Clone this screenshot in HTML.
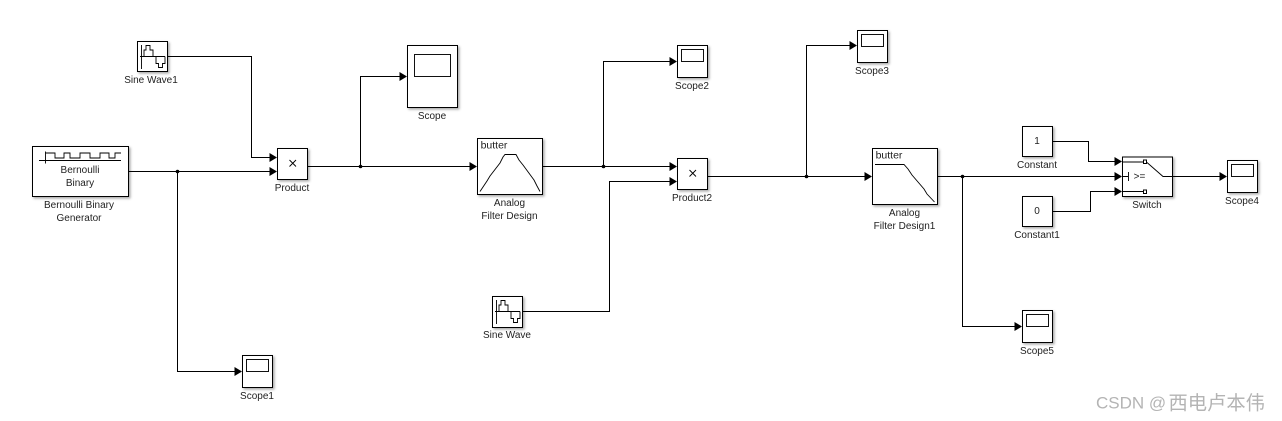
<!DOCTYPE html>
<html>
<head>
<meta charset="utf-8">
<style>
html,body{margin:0;padding:0;background:#fff;width:1282px;height:421px;overflow:hidden}
svg{display:block}
.b{fill:#fff;stroke:#000;stroke-width:1;filter:url(#s)}
.w{fill:none;stroke:#000;stroke-width:1}
.i{fill:none;stroke:#111;stroke-width:1}
.s{fill:none;stroke:#000;stroke-width:0.9}
text{font-family:"Liberation Sans",sans-serif;font-size:10px;fill:#222;text-anchor:middle}
.wm{font-family:"Liberation Sans","Noto Sans CJK SC",sans-serif;font-size:17px;fill:#b4b4b4;text-anchor:start}
.wc{font-family:"Liberation Sans","Noto Sans CJK SC",sans-serif;font-size:19.300px;fill:#b4b4b4;text-anchor:start}
</style>
</head>
<body>
<svg width="1282" height="421" viewBox="0 0 1282 421" xmlns="http://www.w3.org/2000/svg">
<defs>
<filter id="s" x="-20%" y="-20%" width="150%" height="150%">
<feDropShadow dx="1.5" dy="1.5" stdDeviation="1.2" flood-color="#000" flood-opacity="0.35"/>
</filter>
</defs>

<!-- wires -->
<g class="w">
<path d="M167.5 56.5H251.5V157.5H270"/>
<path d="M128 171.5H270"/>
<path d="M177.5 171.5V371.5H235"/>
<path d="M307 166.5H470"/>
<path d="M360.5 166.5V76.5H400"/>
<path d="M542 166.5H670"/>
<path d="M603.5 166.5V61.5H670"/>
<path d="M522 311.5H609.5V181.5H670"/>
<path d="M707 176.5H865"/>
<path d="M806.5 176.5V45.5H850"/>
<path d="M937 176.5H1115"/>
<path d="M962.5 176.5V326.5H1015"/>
<path d="M1052 141.5H1088.5V161.5H1115"/>
<path d="M1052 211.5H1090.5V191.5H1115"/>
<path d="M1172 176.5H1220"/>
</g>

<!-- arrowheads -->
<g fill="#000">
<path d="M269.500 153L277 157.500L269.500 162Z"/>
<path d="M269.500 167L277 171.500L269.500 176Z"/>
<path d="M234.500 367L242 371.500L234.500 376Z"/>
<path d="M399.500 72L407 76.500L399.500 81Z"/>
<path d="M469.500 162L477 166.500L469.500 171Z"/>
<path d="M669.500 57L677 61.500L669.500 66Z"/>
<path d="M669.500 162L677 166.500L669.500 171Z"/>
<path d="M669.500 177L677 181.500L669.500 186Z"/>
<path d="M849.500 41L857 45.500L849.500 50Z"/>
<path d="M864.500 172L872 176.500L864.500 181Z"/>
<path d="M1014.500 322L1022 326.500L1014.500 331Z"/>
<path d="M1114.500 157L1122 161.500L1114.500 166Z"/>
<path d="M1114.500 172L1122 176.500L1114.500 181Z"/>
<path d="M1114.500 187L1122 191.500L1114.500 196Z"/>
<path d="M1219.500 172L1227 176.500L1219.500 181Z"/>
<circle cx="177.500" cy="171.500" r="1.800"/>
<circle cx="360.500" cy="166.500" r="1.800"/>
<circle cx="603.500" cy="166.500" r="1.800"/>
<circle cx="806.500" cy="176.500" r="1.800"/>
<circle cx="962.500" cy="176.500" r="1.800"/>
</g>

<!-- Sine Wave1 -->
<rect class="b" x="137.500" y="41.500" width="30" height="30"/>
<path class="s" d="M141.500 45V69M140 56.500H165M144 56.500V50H146V45.500H150V50H153V56.500M156 56.500V63.500H158.500V67.500H162.500V63.500H165V56.500"/>
<text x="151" y="83">Sine Wave1</text>

<!-- Bernoulli -->
<rect class="b" x="32.500" y="146.500" width="96" height="50"/>
<path class="s" d="M39 160.500H121M45.500 151.500V163.500"/>
<path class="s" d="M45.500 153H55V158H64V153H70V158H80V153H90V158H100V153H109V158H115V153H121"/>
<text x="80" y="173">Bernoulli</text>
<text x="80" y="186">Binary</text>
<text x="79" y="208">Bernoulli Binary</text>
<text x="79" y="221">Generator</text>

<!-- Product -->
<rect class="b" x="277.500" y="148.500" width="30" height="31"/>
<path class="s" d="M289.500 160L296 166.500M296 160L289.500 166.500"/>
<text x="292" y="191">Product</text>

<!-- Scope -->
<rect class="b" x="407.500" y="45.500" width="50" height="62"/>
<rect class="i" x="414.500" y="54.500" width="36" height="22"/>
<text x="432" y="119">Scope</text>

<!-- Filter -->
<rect class="b" x="477.500" y="138.500" width="65" height="56"/>
<text x="494" y="148.500" style="font-size:10.500px">butter</text>
<path class="s" d="M480 191.500L487 181L490 176L500 163L503 157L505 154.500H516L519 160L523 165L534 180L537 186L540 191.500"/>
<text x="509.500" y="206">Analog</text>
<text x="509.500" y="219">Filter Design</text>

<!-- Scope2 -->
<rect class="b" x="677.500" y="45.500" width="30" height="32"/>
<rect class="i" x="681.500" y="49.500" width="22" height="12"/>
<text x="692" y="89">Scope2</text>

<!-- Product2 -->
<rect class="b" x="677.500" y="158.500" width="30" height="31"/>
<path class="s" d="M689.500 170L696 176.500M696 170L689.500 176.500"/>
<text x="692" y="201">Product2</text>

<!-- Sine Wave -->
<rect class="b" x="492.500" y="296.500" width="30" height="31"/>
<path class="s" d="M496.500 300V324M495 311.500H520M499 311.500V305H501V300.500H505V305H508V311.500M511 311.500V318.500H513.500V322.500H517.500V318.500H520V311.500"/>
<text x="507" y="338">Sine Wave</text>

<!-- Scope3 -->
<rect class="b" x="857.500" y="30.500" width="30" height="32"/>
<rect class="i" x="861.500" y="34.500" width="22" height="12"/>
<text x="872" y="74">Scope3</text>

<!-- Scope1 -->
<rect class="b" x="242.500" y="355.500" width="30" height="32"/>
<rect class="i" x="246.500" y="359.500" width="22" height="12"/>
<text x="257" y="399">Scope1</text>

<!-- Filter1 -->
<rect class="b" x="872.500" y="148.500" width="65" height="56"/>
<text x="889" y="158.500" style="font-size:10.500px">butter</text>
<path class="s" d="M875 164.500H904L908 169L912 175L924 189L927 194L934.500 202"/>
<text x="904.500" y="216">Analog</text>
<text x="904.500" y="229">Filter Design1</text>

<!-- Constants -->
<rect class="b" x="1022.500" y="126.500" width="30" height="30"/>
<text x="1037" y="144">1</text>
<text x="1037" y="168">Constant</text>
<rect class="b" x="1022.500" y="196.500" width="30" height="30"/>
<text x="1037" y="214">0</text>
<text x="1037" y="238">Constant1</text>

<!-- Switch -->
<rect class="b" x="1122.500" y="157" width="50" height="39.500"/>
<path class="s" d="M1122.500 162H1143.500M1122.500 191.500H1143.500M1122.500 176.500H1128M1128.500 172V181M1147 162.500L1163 176.500H1172"/>
<rect x="1143.500" y="160" width="3" height="3.500" fill="#fff" stroke="#000" stroke-width="1"/>
<rect x="1143.500" y="190" width="3" height="3.500" fill="#fff" stroke="#000" stroke-width="1"/>
<text x="1139.500" y="179.500">&gt;=</text>
<text x="1147" y="208">Switch</text>

<!-- Scope4 -->
<rect class="b" x="1227.500" y="160.500" width="30" height="32"/>
<rect class="i" x="1231.500" y="164.500" width="22" height="12"/>
<text x="1242" y="204">Scope4</text>

<!-- Scope5 -->
<rect class="b" x="1022.500" y="310.500" width="30" height="32"/>
<rect class="i" x="1026.500" y="314.500" width="22" height="12"/>
<text x="1037" y="354">Scope5</text>

<text class="wm" x="1096" y="408.500">CSDN @</text>
<text class="wc" x="1168.500" y="409.500">西电卢本伟</text>
</svg>
</body>
</html>
